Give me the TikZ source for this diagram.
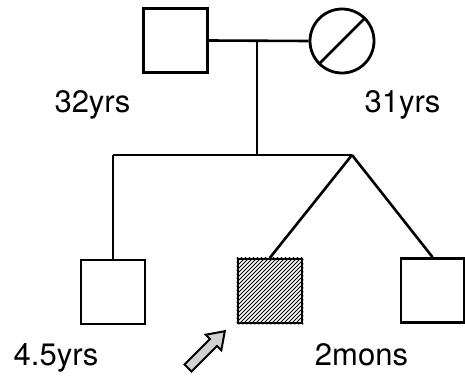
\documentclass[tikz,border=0pt]{standalone}
\usepackage{fontspec}
\setmainfont{TeX Gyre Heros}
\begin{document}
\begin{tikzpicture}[x=1pt,y=-1pt,
  person/.style={draw,line width=2.8pt,minimum size=64pt,inner sep=0pt},
  link/.style={line width=2.6pt},
  age/.style={anchor=base,font=\fontsize{31}{31}\selectfont,inner sep=0pt}]
\useasboundingbox (0,0) rectangle (465,378);
% parents
\node[person] (father) at (175.5,40.5) {};
\node[person,circle,minimum size=64pt] (mother) at (342,41) {};
\draw[link] (mother.-135) -- (mother.45);
\coordinate (mid) at (257,41);
\coordinate (sib) at (257,155);
\coordinate (sibL) at (113,155);
\coordinate (twin) at (352,155);
\draw[link] (father.east) -- (mother.west);
\draw[link] (mid) -- (sib);
\draw[link] (sibL) -- (twin);
% children
\node[person] (c1) at (113,292) {};
\node[person] (c2) at (270,291) {};
\node[person,minimum width=63pt] (c3) at (432.5,290.5) {};
\begin{scope}
  \clip (c2.south west) rectangle (c2.north east);
  \foreach \i in {-70,-66,...,70} {
    \draw[line width=0.9pt] ([xshift=\i pt]c2.south west) -- ++(70,-70);
  }
\end{scope}
\node[person] at (c2) {};
\draw[link] (sibL) -- (c1.north);
\draw[link] (twin) -- (c2.north);
\draw[link] (twin) -- (c3.north);
% proband arrow
\draw[line width=2pt,fill=gray!35,line join=miter]
  (191.5,371.5) -- (217,346) -- (221.3,350.3) -- (224.8,331.2)
  -- (205.7,334.7) -- (210,339) -- (184.5,364.5) -- cycle;
% ages
\node[age] (a1) at (92.5,112) {32yrs};
\node[age] (a2) at (402.5,112) {31yrs};
\node[age] (a3) at (56,365) {4.5yrs};
\node[age] (a4) at (361.5,365) {2mons};
\end{tikzpicture}
\end{document}
